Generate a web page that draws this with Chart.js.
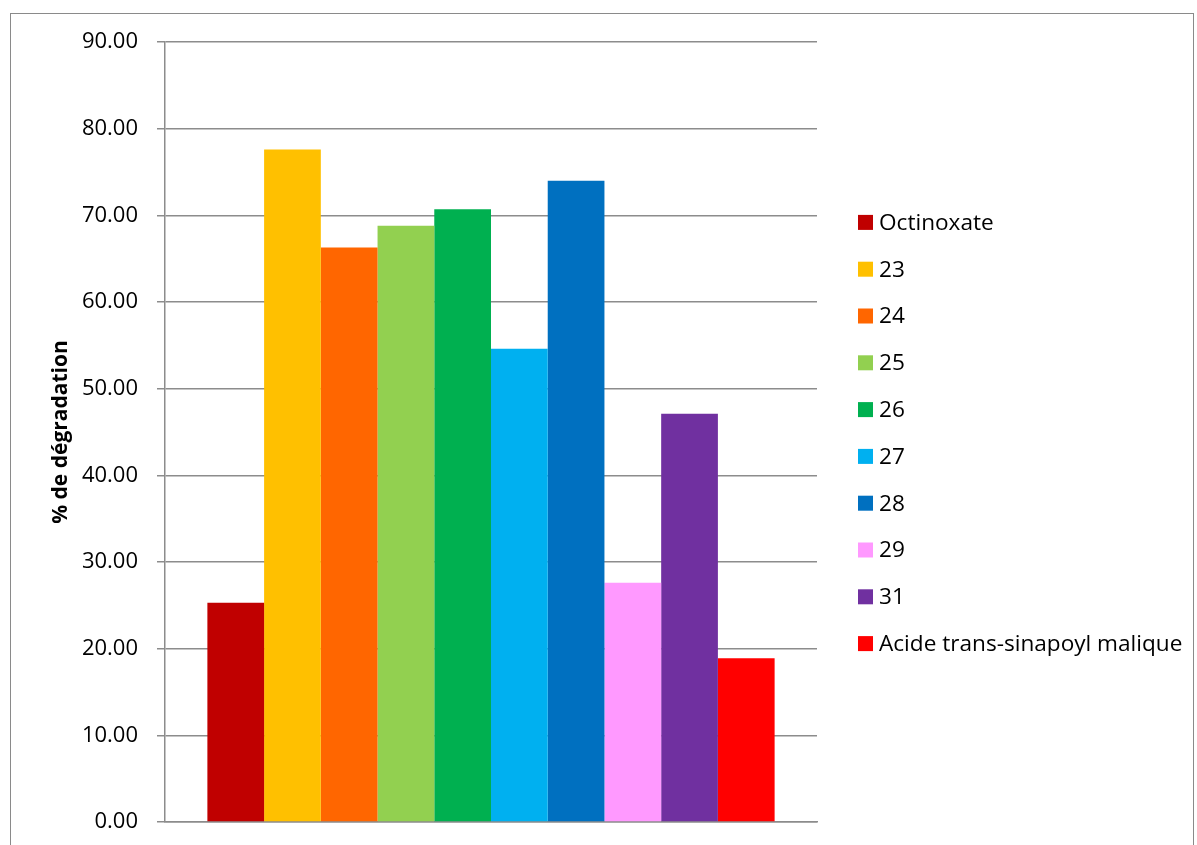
<!DOCTYPE html>
<html lang="fr">
<head>
<meta charset="utf-8">
<title>% de dégradation</title>
<script src="https://cdn.jsdelivr.net/npm/chart.js@4/dist/chart.umd.min.js"></script>
<style>
    html, body { margin: 0; padding: 0; background: #fff; overflow: hidden; }
    #frame {
        position: absolute;
        left: 10px;
        top: 13px;
        width: 1184px;
        height: 900px;
        border: 1.5px solid #8a8a8a;
        box-sizing: border-box;
    }
    #wrap { position: absolute; left: 0; top: 0; width: 1197px; height: 845px; }
</style>
</head>
<body>
<div id="frame"></div>
<div id="wrap"><canvas id="degradationChart"></canvas></div>
<script>
// Données
const categories = [''];
const seriesNames = ['Octinoxate', '23', '24', '25', '26', '27', '28', '29', '31', 'Acide trans-sinapoyl malique'];
const seriesValues = [25.3, 77.6, 66.3, 68.8, 70.7, 54.6, 74.0, 27.6, 47.1, 18.9];
const seriesColors = ['#C00000', '#FFC000', '#FF6600', '#92D050', '#00B050', '#00B0F0', '#0070C0', '#FF99FF', '#7030A0', '#FF0000'];
const yTicks = [0, 10, 20, 30, 40, 50, 60, 70, 80, 90];

const FONT = '"Open Sans", "Liberation Sans", sans-serif';
const GRID = '#8c8c8c';

document.addEventListener('DOMContentLoaded', function () {
    renderDegradationChart();
});

/**
 * Légende à droite, dessinée sur le canvas
 */
const sideLegend = {
    id: 'sideLegend',
    afterDraw(chart) {
        const ctx = chart.ctx;
        const area = chart.chartArea;
        const step = 46.8;
        const sets = chart.data.datasets;
        const cy = (area.top + area.bottom) / 2 + 1;
        const y0 = cy - step * (sets.length - 1) / 2;
        const x = area.right + 41;
        ctx.save();
        ctx.font = '22.6px ' + FONT;
        ctx.textBaseline = 'middle';
        ctx.textAlign = 'left';
        sets.forEach(function (ds, i) {
            const y = y0 + i * step;
            ctx.fillStyle = ds.backgroundColor;
            ctx.fillRect(x, y - 7.5, 15, 15);
            ctx.fillStyle = '#000';
            ctx.fillText(ds.label, x + 21, y + 1);
        });
        ctx.restore();
    }
};

/**
 * Histogramme du pourcentage de dégradation
 */
function renderDegradationChart() {
    const ctx = document.getElementById('degradationChart');

    const datasets = seriesNames.map(function (name, i) {
        return {
            label: name,
            data: [seriesValues[i]],
            backgroundColor: seriesColors[i],
            borderWidth: 0,
            barPercentage: 1,
            categoryPercentage: 0.87
        };
    });

    new Chart(ctx, {
        type: 'bar',
        data: {
            labels: categories,
            datasets: datasets
        },
        options: {
            responsive: true,
            maintainAspectRatio: false,
            animation: false,
            layout: {
                padding: { top: 42, right: 380, bottom: 23, left: 0 }
            },
            plugins: {
                legend: { display: false },
                tooltip: { enabled: false }
            },
            scales: {
                x: {
                    ticks: { display: false },
                    grid: { display: false },
                    border: { display: true, color: GRID, width: 1.5 },
                    afterFit: function (scale) { scale.height = 0; }
                },
                y: {
                    min: 0,
                    max: 90,
                    afterFit: function (scale) {
                        // largeur fixe, sans marge ajoutée en haut/bas
                        scale.width = 165;
                        scale.paddingTop = 0;
                        scale.paddingBottom = 0;
                    },
                    afterBuildTicks: function (scale) {
                        scale.ticks = yTicks.map(function (v) { return { value: v }; });
                    },
                    ticks: {
                        padding: 19,
                        color: '#000',
                        font: { family: FONT, size: 22 },
                        callback: function (value) { return Number(value).toFixed(2); }
                    },
                    grid: {
                        color: GRID,
                        lineWidth: 1.5,
                        tickLength: 8
                    },
                    border: { color: GRID, width: 1.5 },
                    title: {
                        display: true,
                        text: '% de dégradation',
                        color: '#000',
                        font: { family: FONT, size: 21, weight: 'bold' },
                        padding: { top: 48, bottom: 0 }
                    }
                }
            }
        },
        plugins: [sideLegend]
    });
}
</script>
</body>
</html>
